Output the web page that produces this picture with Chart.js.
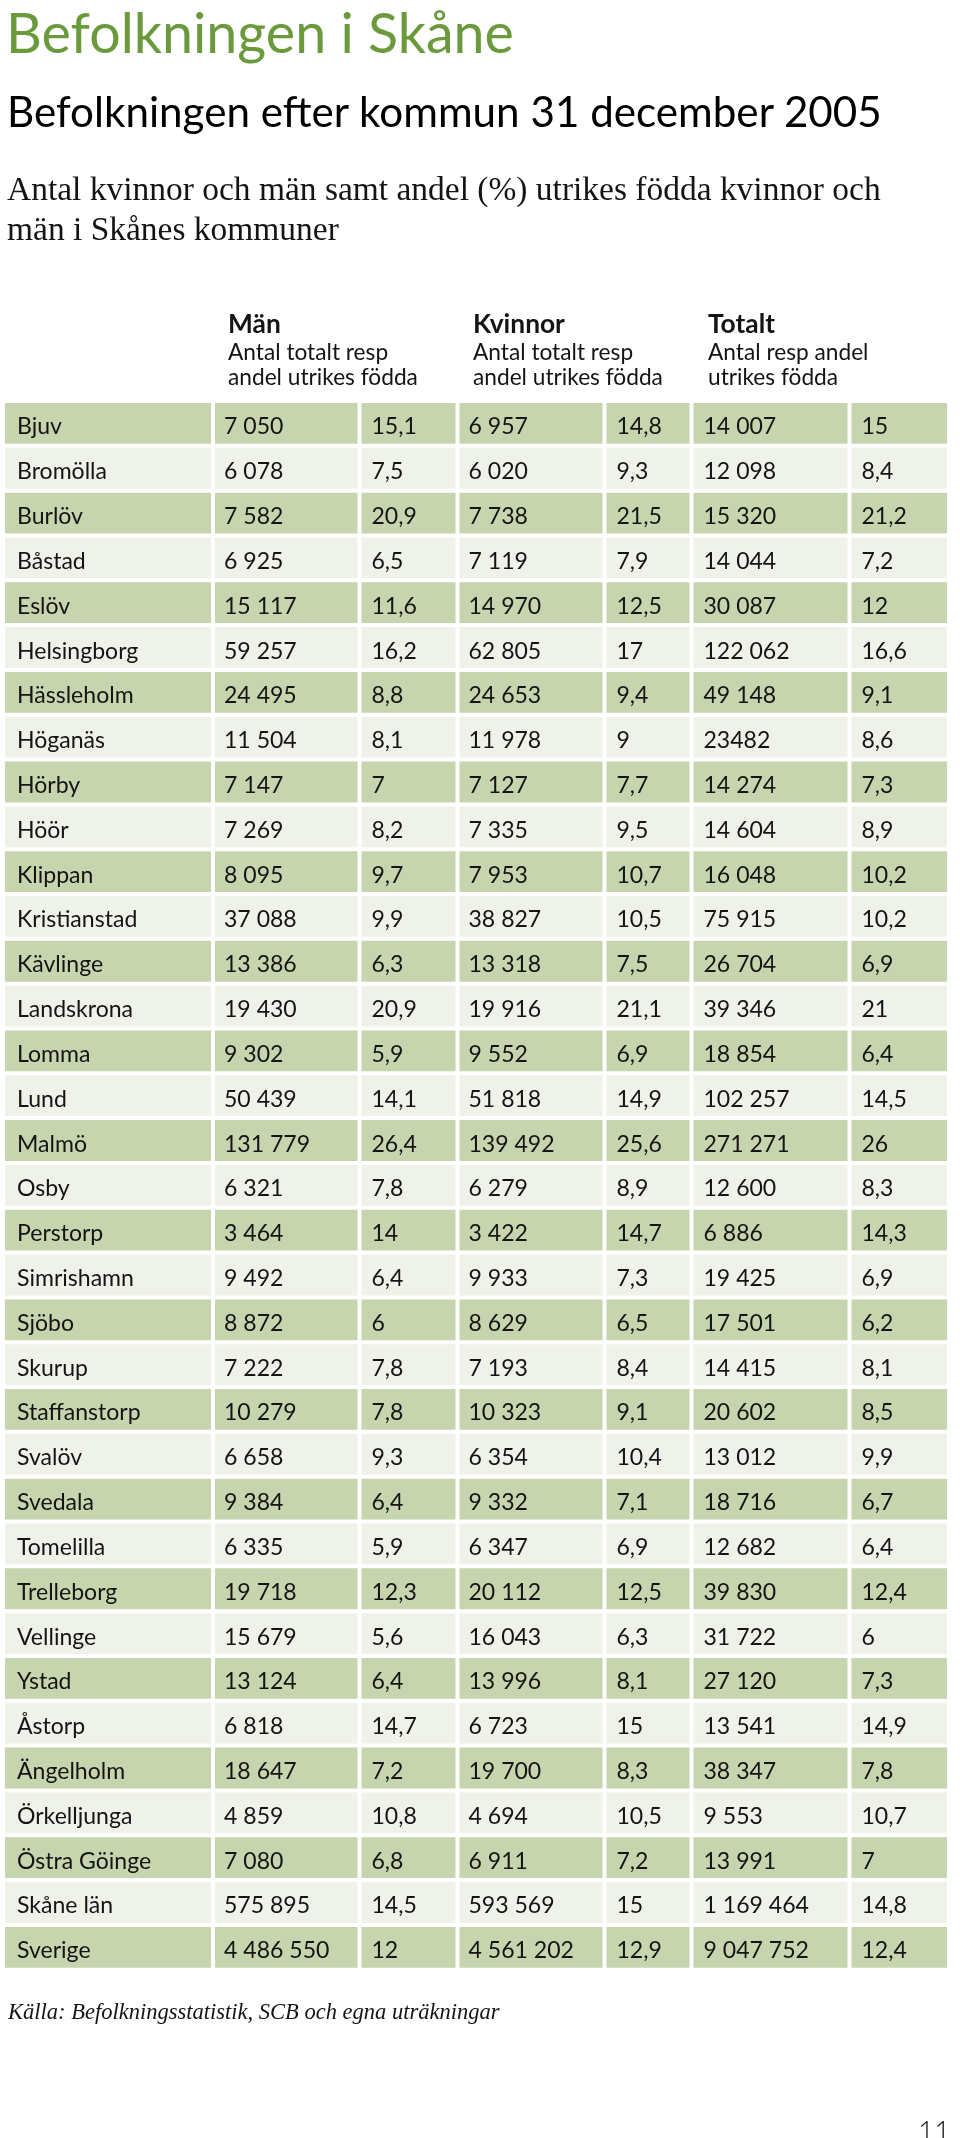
<!DOCTYPE html>
<html lang="sv">
<head>
<meta charset="utf-8">
<title>Befolkningen i Skåne</title>
<script src="https://cdn.jsdelivr.net/npm/chart.js@4.4.1/dist/chart.umd.min.js"></script>
<style>
  html, body { margin: 0; padding: 0; background: #ffffff; }
  body { width: 960px; height: 2138px; position: relative; overflow: hidden; }
  .t { position: absolute; white-space: nowrap; line-height: 1.2; color: #141414; }
  .sans { font-family: Lato, "Open Sans", "DejaVu Sans", sans-serif; }
  .serif { font-family: "Liberation Serif", "DejaVu Serif", serif; }
  #chartWrap { position: absolute; left: 0; top: 0; width: 960px; height: 2138px; }
</style>
</head>
<body>
<div id="chartWrap"><canvas id="tbl"></canvas></div>

<div class="t sans" style="color:#6a9a3c;font-size:50px" data-x="6" data-base="53" data-w="508">Befolkningen i Skåne</div>
<div class="t sans" style="font-size:38px;color:#000" data-x="7" data-base="127" data-w="875">Befolkningen efter kommun 31 december 2005</div>
<div class="t serif" id="desc1" style="font-size:30px" data-x="7" data-base="200" data-w="874">Antal kvinnor och män samt andel (%) utrikes födda kvinnor och</div>
<div class="t serif" id="desc2" style="font-size:30px" data-x="7" data-base="240" data-same="desc1">män i Skånes kommuner</div>

<div class="t sans" id="hb" style="font-size:25px;font-weight:700" data-x="228" data-base="333" data-w="92" data-wtext="Kvinnor">Män</div>
<div class="t sans" id="h1" style="font-size:21px" data-x="228" data-base="360" data-same="h2">Antal totalt resp</div>
<div class="t sans" id="h2" style="font-size:21px" data-x="228" data-base="385" data-w="190">andel utrikes födda</div>

<div class="t sans" style="font-size:25px;font-weight:700" data-x="473" data-base="333" data-same="hb">Kvinnor</div>
<div class="t sans" style="font-size:21px" data-x="473" data-base="360" data-same="h2">Antal totalt resp</div>
<div class="t sans" style="font-size:21px" data-x="473" data-base="385" data-same="h2">andel utrikes födda</div>

<div class="t sans" style="font-size:25px;font-weight:700" data-x="708" data-base="333" data-same="hb">Totalt</div>
<div class="t sans" style="font-size:21px" data-x="708" data-base="360" data-same="h2">Antal resp andel</div>
<div class="t sans" style="font-size:21px" data-x="708" data-base="385" data-same="h2">utrikes födda</div>

<div class="t serif" style="font-size:22px;font-style:italic" data-x="8" data-base="2019" data-w="492">Källa: Befolkningsstatistik, SCB och egna uträkningar</div>
<div class="t sans" style="font-size:28px;font-weight:300" data-x="918" data-base="2141">11</div>

<script>
// ---------------- DATA ----------------
const kommuner = ["Bjuv","Bromölla","Burlöv","Båstad","Eslöv","Helsingborg","Hässleholm","Höganäs","Hörby","Höör",
  "Klippan","Kristianstad","Kävlinge","Landskrona","Lomma","Lund","Malmö","Osby","Perstorp","Simrishamn",
  "Sjöbo","Skurup","Staffanstorp","Svalöv","Svedala","Tomelilla","Trelleborg","Vellinge","Ystad","Åstorp",
  "Ängelholm","Örkelljunga","Östra Göinge","Skåne län","Sverige"];
const manAntal = [7050,6078,7582,6925,15117,59257,24495,11504,7147,7269,
  8095,37088,13386,19430,9302,50439,131779,6321,3464,9492,
  8872,7222,10279,6658,9384,6335,19718,15679,13124,6818,
  18647,4859,7080,575895,4486550];
const manAndel = [15.1,7.5,20.9,6.5,11.6,16.2,8.8,8.1,7,8.2,
  9.7,9.9,6.3,20.9,5.9,14.1,26.4,7.8,14,6.4,
  6,7.8,7.8,9.3,6.4,5.9,12.3,5.6,6.4,14.7,
  7.2,10.8,6.8,14.5,12];
const kvinnorAntal = [6957,6020,7738,7119,14970,62805,24653,11978,7127,7335,
  7953,38827,13318,19916,9552,51818,139492,6279,3422,9933,
  8629,7193,10323,6354,9332,6347,20112,16043,13996,6723,
  19700,4694,6911,593569,4561202];
const kvinnorAndel = [14.8,9.3,21.5,7.9,12.5,17,9.4,9,7.7,9.5,
  10.7,10.5,7.5,21.1,6.9,14.9,25.6,8.9,14.7,7.3,
  6.5,8.4,9.1,10.4,7.1,6.9,12.5,6.3,8.1,15,
  8.3,10.5,7.2,15,12.9];
const totaltAntal = [14007,12098,15320,14044,30087,122062,49148,23482,14274,14604,
  16048,75915,26704,39346,18854,102257,271271,12600,6886,19425,
  17501,14415,20602,13012,18716,12682,39830,31722,27120,13541,
  38347,9553,13991,1169464,9047752];
const totaltAndel = [15,8.4,21.2,7.2,12,16.6,9.1,8.6,7.3,8.9,
  10.2,10.2,6.9,21,6.4,14.5,26,8.3,14.3,6.9,
  6.2,8.1,8.5,9.9,6.7,6.4,12.4,6,7.3,14.9,
  7.8,10.7,7,14.8,12.4];
// Typeset exactly as in the source table (no thousands space there)
const labelOverrides = { "5-7": "23482" };

// ---------------- LAYOUT / STYLE ----------------
const COL_WIDTHS = [210, 146.5, 98, 147, 87, 158, 99.5];   // cell widths in px units
const TEXT_PAD = [12, 9, 10, 9, 10, 10, 10];
const DARK = "#c6d5ae";
const LIGHT = "#eff2e9";
const TEXT_COLOR = "#141414";

function fmtInt(v) {
  return String(v).replace(/\B(?=(\d{3})+(?!\d))/g, " ");
}
function fmtDec(v) {
  return String(v).replace(".", ",");
}
const columns = [
  null,
  { vals: manAntal, fmt: fmtInt },
  { vals: manAndel, fmt: fmtDec },
  { vals: kvinnorAntal, fmt: fmtInt },
  { vals: kvinnorAndel, fmt: fmtDec },
  { vals: totaltAntal, fmt: fmtInt },
  { vals: totaltAndel, fmt: fmtDec }
];
function cellLabel(c, i) {
  if (c === 0) return kommuner[i];
  const key = c + "-" + i;
  if (labelOverrides[key]) return labelOverrides[key];
  return columns[c].fmt(columns[c].vals[i]);
}

// ---------------- HTML text placement ----------------
function placeTexts() {
  const els = Array.from(document.querySelectorAll(".t"));
  const sized = {};
  els.forEach(el => {
    el.style.left = el.dataset.x + "px";
    el.style.top = "0px";
    if (el.dataset.w) {
      const size = parseFloat(getComputedStyle(el).fontSize);
      let w;
      if (el.dataset.wtext) {
        const probe = el.cloneNode(false);
        probe.textContent = el.dataset.wtext;
        document.body.appendChild(probe);
        w = probe.getBoundingClientRect().width;
        probe.remove();
      } else {
        w = el.getBoundingClientRect().width;
      }
      el.style.fontSize = (size * parseFloat(el.dataset.w) / w) + "px";
    }
    if (el.id) sized[el.id] = el;
  });
  els.forEach(el => {
    if (el.dataset.same && sized[el.dataset.same]) {
      el.style.fontSize = getComputedStyle(sized[el.dataset.same]).fontSize;
    }
  });
  els.forEach(el => {
    const m = document.createElement("span");
    m.style.cssText = "display:inline-block;width:0;height:0;vertical-align:baseline";
    el.appendChild(m);
    const b = m.getBoundingClientRect().top - el.getBoundingClientRect().top;
    el.style.top = (parseFloat(el.dataset.base) - b) + "px";
  });
}
placeTexts();

// ---------------- Chart ----------------
let cellFontSize = null;
const cellTextPlugin = {
  id: "cellText",
  afterDatasetsDraw(chart) {
    const ctx = chart.ctx;
    ctx.save();
    if (!cellFontSize) {
      ctx.font = "20px Lato, 'Open Sans', sans-serif";
      cellFontSize = 20 * 90 / ctx.measureText("Bromölla").width;
    }
    ctx.font = cellFontSize.toFixed(2) + "px Lato, 'Open Sans', sans-serif";
    ctx.fillStyle = TEXT_COLOR;
    ctx.textAlign = "left";
    ctx.textBaseline = "alphabetic";
    chart.data.datasets.forEach((ds, c) => {
      const meta = chart.getDatasetMeta(c);
      meta.data.forEach((el, i) => {
        const p = el.getProps(["x", "base", "y"], true);
        const left = Math.min(p.x, p.base);
        ctx.fillText(cellLabel(c, i), left + 2 + TEXT_PAD[c], p.y + 11);
      });
    });
    ctx.restore();
  }
};

const datasets = COL_WIDTHS.map((w, c) => ({
  label: "col" + c,
  data: kommuner.map(() => w),
  backgroundColor: ctx => (ctx.dataIndex % 2 === 0 ? DARK : LIGHT),
  borderColor: "#ffffff",
  borderWidth: 2,
  borderSkipped: false,
  barPercentage: 1,
  categoryPercentage: 1,
  inflateAmount: 0
}));

const rowPitch = 44.82;
const tableTop = 401;
const tableBottom = tableTop + rowPitch * kommuner.length;
const totalW = COL_WIDTHS.reduce((a, b) => a + b, 0);

new Chart(document.getElementById("tbl"), {
  type: "bar",
  data: { labels: kommuner, datasets },
  options: {
    indexAxis: "y",
    responsive: true,
    maintainAspectRatio: false,
    animation: false,
    events: [],
    layout: { padding: { left: 3, right: 960 - 3 - totalW, top: tableTop, bottom: 2138 - tableBottom } },
    scales: {
      x: { display: false, stacked: true, min: 0, max: totalW },
      y: { display: false, stacked: true }
    },
    plugins: { legend: { display: false }, tooltip: { enabled: false }, title: { display: false } }
  },
  plugins: [cellTextPlugin]
});
</script>
</body>
</html>
